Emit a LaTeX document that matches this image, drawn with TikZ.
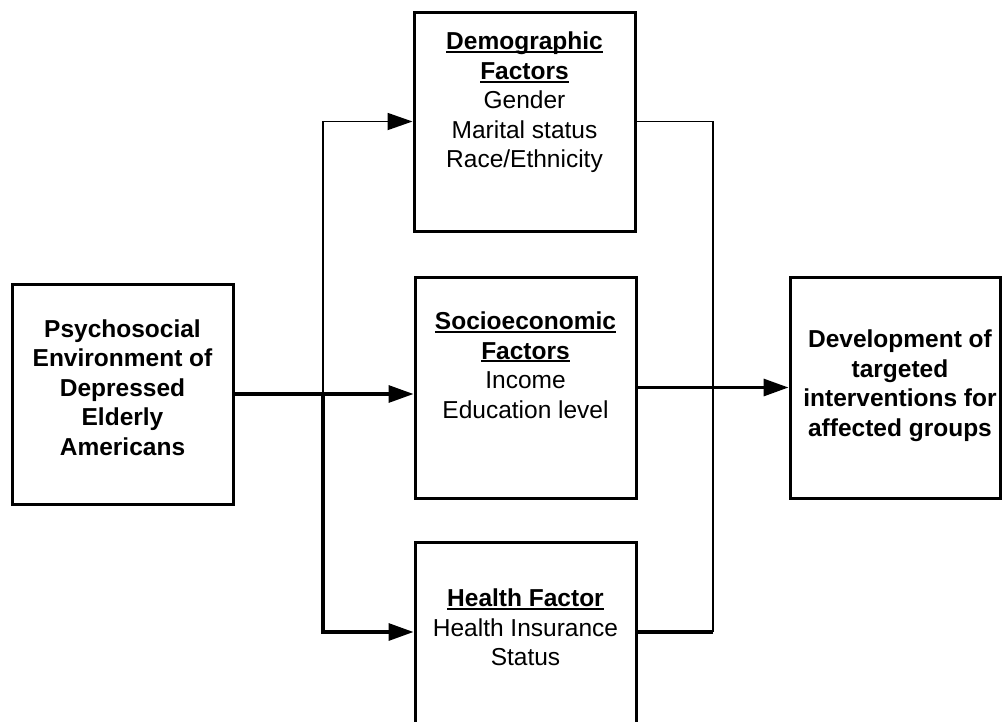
\documentclass[tikz,border=0pt]{standalone}
\usepackage{fontspec}
\setmainfont{Liberation Sans}
\usetikzlibrary{arrows.meta}
\newcommand{\ulhead}[1]{{\setbox0\hbox{\textbf{#1}}\rlap{\rule[-3.2pt]{\wd0}{1.8pt}}\box0}}
\tikzset{
  boxnode/.style={draw, line width=3pt, rectangle, inner sep=0pt},
  txt/.style={align=center, font=\fontsize{24.5}{29.5}\selectfont, inner sep=0pt},
  thickline/.style={line width=3.2pt},
  thinline/.style={line width=1.8pt},
  tip/.style={-{Triangle[length=25pt,width=17pt]}}
}
\begin{document}
\begin{tikzpicture}[x=1pt,y=-1pt]
\useasboundingbox (0,0) rectangle (1002,721);
\clip (0,0) rectangle (1002,721);
% boxes
\node[boxnode, minimum width=221pt, minimum height=220pt] (L) at (122.5,394) {};
\node[boxnode, minimum width=221pt, minimum height=219pt] (T) at (524.5,121.5) {};
\node[boxnode, minimum width=221pt, minimum height=221pt] (M) at (525.5,387.5) {};
\node[boxnode, minimum width=221pt, minimum height=218pt] (B) at (525.5,651) {};
\node[boxnode, minimum width=210pt, minimum height=221pt] (R) at (895,387.5) {};
% texts
\node[txt, font=\fontsize{24.5}{29.5}\selectfont\bfseries] (Lt) at (122.5,387.5)
  {Psychosocial\\Environment of\\Depressed\\Elderly\\Americans};
\node[txt] (Tt) at (524.5,102.5)
  {\ulhead{Demographic}\\\ulhead{Factors}\\Gender\\Marital status\\Race/Ethnicity};
\node[txt] (Mt) at (525.5,365)
  {\ulhead{Socioeconomic}\\\ulhead{Factors}\\Income\\Education level};
\node[txt] (Bt) at (525.5,627.5)
  {\ulhead{Health Factor}\\Health Insurance\\Status};
\node[txt, font=\fontsize{24.5}{29.5}\selectfont\bfseries] (Rt) at (900,385.5)
  {Development of\\targeted\\interventions for\\affected groups};
% connectors
\coordinate (J) at (323,394);
\coordinate (K) at (713,632);
\draw[thickline, tip] (L.east) -- (L.east -| M.west);
\draw[thinline, tip] (J) |- (T.west);
\draw[thickline, tip] (J) |- ([yshift=19pt]B.west);
\draw[thinline] (T.east) -| (K);
\draw[thickline] (K) -- ([yshift=19pt]B.east);
\draw[thickline, tip] (M.east) -- (R.west);
\end{tikzpicture}
\end{document}
